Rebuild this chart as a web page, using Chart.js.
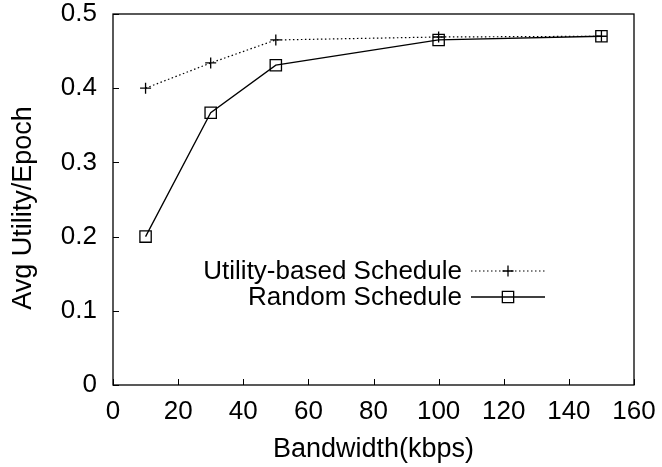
<!DOCTYPE html>
<html>
<head>
<meta charset="utf-8">
<script src="https://cdn.jsdelivr.net/npm/chart.js@4"></script>
<style>
body{margin:0;background:#fff;}
#wrap{width:662px;height:467px;}
</style>
</head>
<body>
<div id="wrap"><canvas id="c" width="662" height="467"></canvas></div>
<script>
const bandwidth = [10, 30, 50, 100, 150];
const utilitySchedule = [0.400, 0.434, 0.465, 0.469, 0.470];
const randomSchedule = [0.200, 0.367, 0.431, 0.465, 0.470];
const xTicks = [0, 20, 40, 60, 80, 100, 120, 140, 160];
const yTicks = [0, 0.1, 0.2, 0.3, 0.4, 0.5];
const seriesNames = ["Utility-based Schedule", "Random Schedule"];
const xTitle = "Bandwidth(kbps)";
const yTitle = "Avg Utility/Epoch";

const FONT = "'Liberation Sans', Arial, sans-serif";
const FS = 26;

const pts = (ys) => bandwidth.map((x, i) => ({x: x, y: ys[i]}));

/* frame, inward ticks, y title, legend */
const framePlugin = {
  id: "frame",
  afterDatasetsDraw(chart){
    const {ctx, chartArea: a, scales} = chart;
    ctx.save();
    ctx.strokeStyle = "#000";
    ctx.lineWidth = 1.3;
    ctx.strokeRect(a.left, a.top, a.right - a.left, a.bottom - a.top);
    ctx.lineWidth = 1;
    ctx.beginPath();
    xTicks.forEach(v=>{
      const px = Math.round(scales.x.getPixelForValue(v)) + 0.5;
      ctx.moveTo(px, a.bottom); ctx.lineTo(px, a.bottom - 6);
    });
    yTicks.forEach(v=>{
      const py = Math.round(scales.y.getPixelForValue(v)) + 0.5;
      ctx.moveTo(a.left, py); ctx.lineTo(a.left + 6, py);
    });
    ctx.stroke();

    ctx.fillStyle = "#000";

    /* y title */
    ctx.save();
    ctx.font = "27px " + FONT;
    ctx.translate(24, 208);
    ctx.rotate(-Math.PI / 2);
    ctx.textAlign = "center";
    ctx.textBaseline = "middle";
    ctx.fillText(yTitle, 0, 0);
    ctx.restore();

    /* legend */
    ctx.font = FS + "px " + FONT;
    ctx.textAlign = "right";
    ctx.textBaseline = "middle";
    const textX = 462, x0 = 471, x1 = 545, mx = 508;
    const rows = [271, 297];
    chart.data.datasets.forEach((ds, i)=>{
      const y = rows[i];
      ctx.fillStyle = "#000";
      ctx.fillText(seriesNames[i], textX, y + 1);
      ctx.save();
      ctx.lineWidth = ds.borderWidth;
      ctx.setLineDash(ds.borderDash || []);
      ctx.beginPath(); ctx.moveTo(x0, y); ctx.lineTo(x1, y); ctx.stroke();
      ctx.restore();
      ctx.fillStyle = "rgba(0,0,0,0)";
      ctx.lineWidth = 1.3;
      Chart.helpers.drawPoint(ctx, {pointStyle: ds.pointStyle, radius: ds.pointRadius, borderWidth: 1.3}, mx, y);
    });
    ctx.restore();
  }
};

new Chart(document.getElementById("c"), {
  type: "scatter",
  data: {
    datasets: [
      {
        label: seriesNames[0],
        data: pts(utilitySchedule),
        showLine: true,
        borderColor: "#000",
        borderWidth: 1.2,
        borderDash: [1.5, 2.5],
        pointStyle: "cross",
        pointRadius: 5.5,
        pointBorderWidth: 1.3,
        pointBorderColor: "#000",
        pointBackgroundColor: "rgba(0,0,0,0)"
      },
      {
        label: seriesNames[1],
        data: pts(randomSchedule),
        showLine: true,
        borderColor: "#000",
        borderWidth: 1.3,
        pointStyle: "rect",
        pointRadius: 8,
        pointBorderWidth: 1.3,
        pointBorderColor: "#000",
        pointBackgroundColor: "rgba(0,0,0,0)"
      }
    ]
  },
  options: {
    responsive: false,
    animation: false,
    layout: {padding: {top: 14, right: 28, left: 0, bottom: 0}},
    plugins: {legend: {display: false}, tooltip: {enabled: false}},
    scales: {
      x: {
        type: "linear",
        min: 0, max: 160,
        afterBuildTicks: (s)=>{ s.ticks = xTicks.map(v=>({value: v})); },
        afterFit: (s)=>{ s.height = 82; s.paddingLeft = 0; s.paddingRight = 0; },
        grid: {display: false, drawTicks: false},
        border: {display: false},
        ticks: {color: "#000", font: {size: FS, family: FONT}, padding: 11, maxRotation: 0, autoSkip: false},
        title: {display: true, text: xTitle, color: "#000", font: {size: 27, family: FONT}, padding: {top: 0, bottom: 1}}
      },
      y: {
        min: 0, max: 0.5,
        afterBuildTicks: (s)=>{ s.ticks = yTicks.map(v=>({value: v})); },
        afterFit: (s)=>{ s.width = 113; s.paddingTop = 0; s.paddingBottom = 0; },
        grid: {display: false, drawTicks: false},
        border: {display: false},
        ticks: {color: "#000", font: {size: FS, family: FONT}, padding: 16, autoSkip: false, callback: (v)=> String(v)}
      }
    }
  },
  plugins: [framePlugin]
});
</script>
</body>
</html>
